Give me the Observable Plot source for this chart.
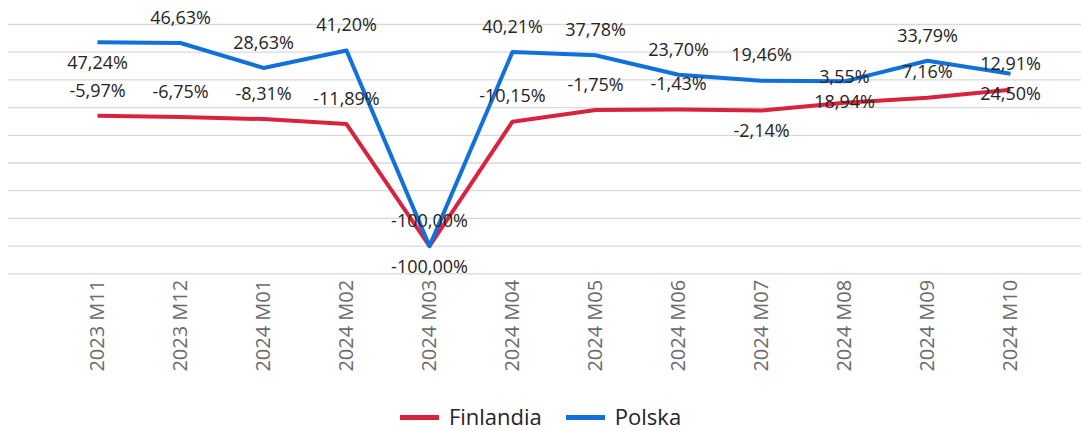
<!DOCTYPE html>
<html>
<head>
<meta charset="utf-8">
<script src="https://cdn.jsdelivr.net/npm/d3@7"></script>
<script src="https://cdn.jsdelivr.net/npm/@observablehq/plot@0.6"></script>
<style>
  html, body { margin: 0; padding: 0; background: #fff; }
  body { width: 1081px; height: 431px; font-family: "Segoe UI", "Open Sans", sans-serif; }
  #chart svg { display: block; }
  #legend { display: flex; justify-content: center; align-items: center; gap: 24px; height: 41px; padding-top: 11px; box-sizing: border-box; font-size: 22px; line-height: 30px; color: #252423; }
  .item { display: flex; align-items: center; gap: 10px; }
  .sw { width: 39px; height: 5px; margin-top: 3px; }
</style>
</head>
<body>
<div id="chart"></div>
<div id="legend"></div>
<script>
const months = ["2023 M11","2023 M12","2024 M01","2024 M02","2024 M03","2024 M04","2024 M05","2024 M06","2024 M07","2024 M08","2024 M09","2024 M10"];
const seriesNames = ["Finlandia", "Polska"];
const finlandia = [-5.97, -6.75, -8.31, -11.89, -100.00, -10.15, -1.75, -1.43, -2.14, 3.55, 7.16, 12.91];
const polska = [47.24, 46.63, 28.63, 41.20, -100.00, 40.21, 37.78, 23.70, 19.46, 18.94, 33.79, 24.50];
const yTicks = [-120, -100, -80, -60, -40, -20, 0, 20, 40, 60];

// label placement (Power BI style: above / below the point)
const finPlace = ["above","above","above","above","above","above","above","above","below","above","above","above"];
const polPlace = ["below","above","above","above","below","above","above","above","above","below","above","below"];

const colors = {Finlandia: "#D8233F", Polska: "#1170DA"};

const rows = [];
months.forEach((m, i) => {
  rows.push({month: m, series: "Finlandia", value: finlandia[i], place: finPlace[i]});
  rows.push({month: m, series: "Polska", value: polska[i], place: polPlace[i]});
});
const fmt = v => v.toFixed(2).replace(".", ",") + "%";

const W = 1081, H = 390;
const plot = Plot.plot({
  width: W,
  height: H,
  marginLeft: 8,
  marginRight: 0,
  marginTop: 24,
  marginBottom: H - 273.3,
  style: {fontFamily: '"Segoe UI", "Open Sans", sans-serif', background: "#fff"},
  x: {type: "point", domain: months, padding: 0, insetLeft: 85, insetRight: 68, label: null},
  y: {domain: [-120, 60], axis: null, label: null},
  color: {domain: seriesNames, range: seriesNames.map(s => colors[s])},
  marks: [
    Plot.gridY(yTicks, {stroke: "#D9D9D9", strokeOpacity: 1, strokeWidth: 1.3}),
    Plot.axisX({tickRotate: -90, tickSize: 0, tickPadding: 6, fontSize: 20, fill: "#6B6B6B", textAnchor: "end"}),
    Plot.line(rows, {x: "month", y: "value", z: "series", stroke: "series", strokeWidth: 4, strokeLinejoin: "round", strokeLinecap: "butt"}),
    Plot.text(rows.filter(d => d.place === "above"), {x: "month", y: "value", text: d => fmt(d.value), dy: -25, fontSize: 18, fill: "#252423"}),
    Plot.text(rows.filter(d => d.place === "below"), {x: "month", y: "value", text: d => fmt(d.value), dy: 21, fontSize: 18, fill: "#252423"})
  ]
});
document.getElementById("chart").appendChild(plot);

const legend = document.getElementById("legend");
seriesNames.forEach(s => {
  const it = document.createElement("div");
  it.className = "item";
  const sw = document.createElement("div");
  sw.className = "sw";
  sw.style.background = colors[s];
  const t = document.createElement("span");
  t.textContent = s;
  it.appendChild(sw); it.appendChild(t);
  legend.appendChild(it);
});
</script>
</body>
</html>
